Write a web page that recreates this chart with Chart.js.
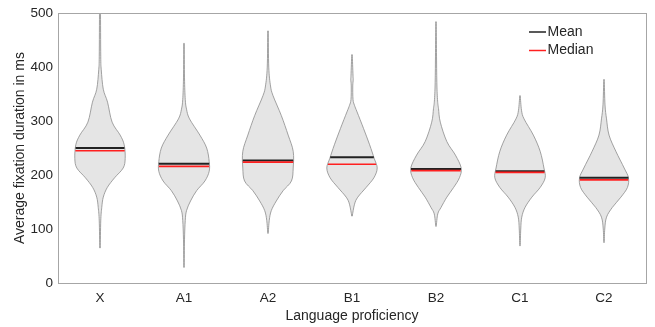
<!DOCTYPE html>
<html>
<head>
<meta charset="utf-8">
<script src="https://cdn.jsdelivr.net/npm/chart.js@4.4.1/dist/chart.umd.min.js"></script>
<style>
  html, body { margin: 0; padding: 0; background: #fff; }
  #wrap { width: 655px; height: 327px; }
</style>
</head>
<body>
<div id="wrap"><canvas id="chart"></canvas></div>
<script>
// categories and summary values (ms)
var LABELS  = ['X', 'A1', 'A2', 'B1', 'B2', 'C1', 'C2'];
var MEANS   = [250, 221, 227, 233, 211, 207, 195];
var MEDIANS = [245, 216, 224, 220, 208, 205, 191];

// violin outlines: value levels (ms), top to bottom,
// and relative half-width of the density at each level (1 = widest)
var LEVELS = [
  [505, 420, 395, 359, 335, 298, 274, 256, 231, 213, 195, 177, 159, 140, 115, 65],
  [444, 380, 340, 322, 304, 274, 250, 225, 207, 189, 171, 152, 134, 116, 80, 29],
  [467, 400, 365, 347, 310, 274, 244, 213, 189, 171, 152, 134, 116, 92],
  [423, 385, 377, 365, 340, 329, 317, 286, 256, 231, 213, 195, 177, 159, 146, 124],
  [484, 380, 340, 323, 298, 262, 237, 213, 195, 177, 159, 140, 128, 105],
  [347, 320, 304, 274, 244, 213, 195, 177, 159, 140, 122, 100, 69],
  [377, 330, 304, 274, 244, 213, 195, 177, 159, 140, 122, 100, 75]
];
var WIDTHS = [
  [0.02, 0.03, 0.05, 0.13, 0.3, 0.48, 0.8, 0.96, 1.0, 0.92, 0.58, 0.29, 0.13, 0.07, 0.03, 0.01],
  [0.01, 0.02, 0.05, 0.1, 0.22, 0.63, 0.9, 1.0, 1.0, 0.83, 0.5, 0.26, 0.1, 0.05, 0.02, 0.01],
  [0.01, 0.03, 0.1, 0.2, 0.53, 0.8, 1.0, 1.0, 0.93, 0.6, 0.33, 0.13, 0.05, 0.01],
  [0.01, 0.04, 0.05, 0.03, 0.04, 0.1, 0.2, 0.46, 0.7, 0.88, 1.0, 0.87, 0.56, 0.23, 0.1, 0.01],
  [0.01, 0.03, 0.06, 0.1, 0.17, 0.43, 0.77, 1.0, 0.93, 0.7, 0.43, 0.2, 0.07, 0.01],
  [0.01, 0.06, 0.16, 0.53, 0.8, 0.95, 1.0, 0.8, 0.47, 0.2, 0.07, 0.03, 0.01],
  [0.01, 0.04, 0.1, 0.2, 0.47, 0.8, 0.97, 0.93, 0.67, 0.33, 0.1, 0.03, 0.01]
];

var TEXT = '#262626';
var HALF = 0.3; // max half width, in category widths

function widthAt(i, v) {
  var lv = LEVELS[i], w = WIDTHS[i];
  for (var k = 0; k < lv.length - 1; k++) {
    if (v <= lv[k] && v >= lv[k + 1]) {
      var t = (v - lv[k + 1]) / (lv[k] - lv[k + 1]);
      return w[k + 1] + t * (w[k] - w[k + 1]);
    }
  }
  return 0;
}

// catmull-rom curve through the points (continues current path)
function curveThrough(ctx, p) {
  for (var k = 0; k < p.length - 1; k++) {
    var p0 = p[Math.max(k - 1, 0)], p1 = p[k], p2 = p[k + 1], p3 = p[Math.min(k + 2, p.length - 1)];
    ctx.bezierCurveTo(
      p1[0] + (p2[0] - p0[0]) / 6, p1[1] + (p2[1] - p0[1]) / 6,
      p2[0] - (p3[0] - p1[0]) / 6, p2[1] - (p3[1] - p1[1]) / 6,
      p2[0], p2[1]);
  }
}

var violinPlugin = {
  id: 'violins',
  afterDatasetsDraw: function(chart) {
    var ctx = chart.ctx, xs = chart.scales.x, ys = chart.scales.y, a = chart.chartArea;
    var step = xs.getPixelForValue(1) - xs.getPixelForValue(0);
    ctx.save();
    ctx.beginPath();
    ctx.rect(a.left, a.top, a.right - a.left, a.bottom - a.top);
    ctx.clip();
    for (var i = 0; i < LABELS.length; i++) {
      var cx = xs.getPixelForValue(i);
      var lv = LEVELS[i], w = WIDTHS[i];
      var right = [], left = [];
      for (var k = 0; k < lv.length; k++) {
        var y = ys.getPixelForValue(lv[k]);
        right.push([cx + w[k] * HALF * step, y]);
        left.push([cx - w[k] * HALF * step, y]);
      }
      left.reverse();
      ctx.beginPath();
      ctx.moveTo(right[0][0], right[0][1]);
      curveThrough(ctx, right);
      ctx.lineTo(left[0][0], left[0][1]);
      curveThrough(ctx, left);
      ctx.closePath();
      ctx.fillStyle = '#e5e5e5';
      ctx.fill();
      ctx.strokeStyle = '#8c8c8c';
      ctx.lineWidth = 0.8;
      ctx.stroke();

      // mean and median bars across the violin
      var lines = [[MEANS[i], '#222222', 2], [MEDIANS[i], '#ff2020', 1.7]];
      for (var m = 0; m < lines.length; m++) {
        var hw = widthAt(i, lines[m][0]) * HALF * step;
        var yy = ys.getPixelForValue(lines[m][0]);
        ctx.beginPath();
        ctx.moveTo(cx - hw, yy);
        ctx.lineTo(cx + hw, yy);
        ctx.strokeStyle = lines[m][1];
        ctx.lineWidth = lines[m][2];
        ctx.stroke();
      }
    }
    ctx.restore();

    // axes box
    ctx.save();
    ctx.strokeStyle = '#a6a6a6';
    ctx.lineWidth = 1;
    ctx.strokeRect(Math.round(a.left) + 0.5, Math.round(a.top) + 0.5,
      Math.round(a.right - a.left), Math.round(a.bottom - a.top));

    // legend
    ctx.font = '14px "Liberation Sans", Arial, sans-serif';
    ctx.textBaseline = 'middle';
    ctx.fillStyle = TEXT;
    var items = [['Mean', '#222222'], ['Median', '#ff2020']];
    for (var j = 0; j < items.length; j++) {
      var ly = 32 + j * 18.5;
      ctx.beginPath();
      ctx.moveTo(529, ly);
      ctx.lineTo(546, ly);
      ctx.strokeStyle = items[j][1];
      ctx.lineWidth = 1.5;
      ctx.stroke();
      ctx.fillText(items[j][0], 547.5, ly);
    }
    ctx.restore();
  }
};

var tickFont = { family: '"Liberation Sans", Arial, sans-serif', size: 13.5 };
var titleFont = { family: '"Liberation Sans", Arial, sans-serif', size: 14 };

new Chart(document.getElementById('chart'), {
  type: 'line',
  data: {
    labels: LABELS,
    datasets: [{ data: MEANS, showLine: false, pointRadius: 0 }]
  },
  options: {
    responsive: true,
    maintainAspectRatio: false,
    animation: false,
    layout: { padding: { top: 9, right: 9, left: 0, bottom: 0 } },
    plugins: { legend: { display: false }, tooltip: { enabled: false } },
    scales: {
      x: {
        offset: true,
        grid: { display: false, drawTicks: false },
        border: { display: false },
        ticks: { color: TEXT, font: tickFont, padding: 7 },
        title: { display: true, text: 'Language proficiency', color: TEXT, font: titleFont, padding: { top: 0, bottom: 2 } },
        afterFit: function(s) { s.height = 44; }
      },
      y: {
        min: 0, max: 500,
        grid: { display: false, drawTicks: false },
        border: { display: false },
        ticks: { stepSize: 100, color: TEXT, font: tickFont, padding: 5 },
        title: { display: true, text: 'Average fixation duration in ms', color: TEXT, font: titleFont, padding: { top: 12, bottom: 0 } },
        afterFit: function(s) { s.width = 58; }
      }
    }
  },
  plugins: [violinPlugin]
});
</script>
</body>
</html>
